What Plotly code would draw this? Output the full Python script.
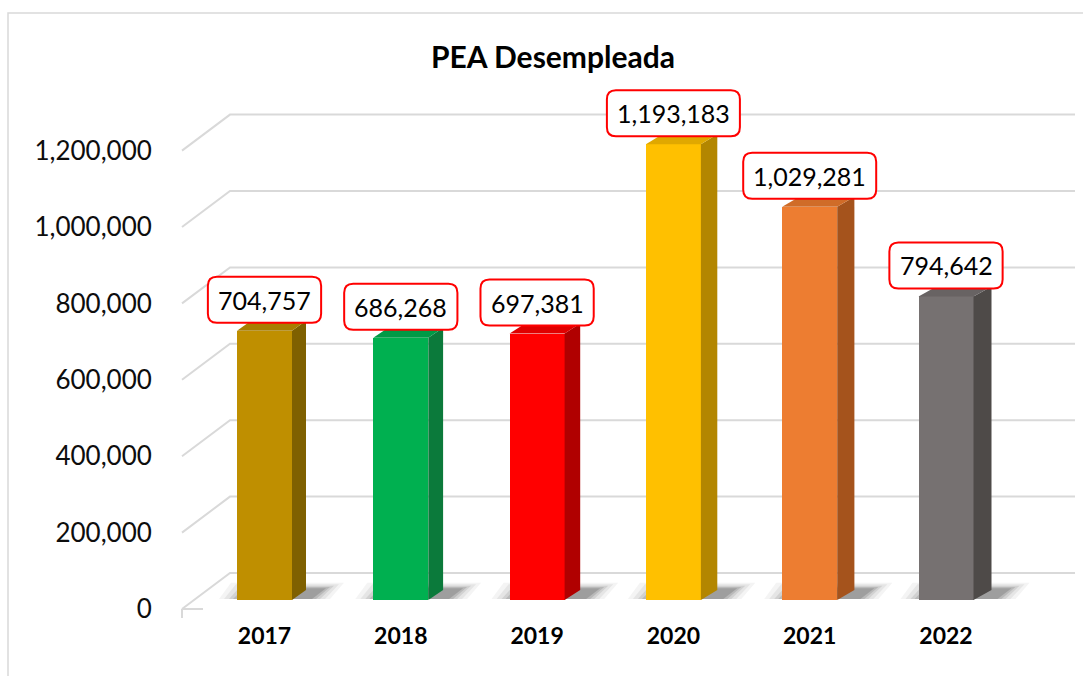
import plotly.graph_objects as go

# ---------------- data ----------------
years = ["2017", "2018", "2019", "2020", "2021", "2022"]
values = [704757, 686268, 697381, 1193183, 1029281, 794642]
front_colors = ["#BF8F00", "#00B050", "#FF0000", "#FFC000", "#ED7D31", "#767171"]
side_colors = ["#7F6000", "#0B7A3B", "#B00000", "#B38600", "#A5531C", "#4E4A48"]
top_colors = ["#A87E00", "#009A46", "#E00000", "#E0A800", "#D06C28", "#686363"]
y_ticks = [0, 200000, 400000, 600000, 800000, 1000000, 1200000]
title_text = "PEA Desempleada"

# ---------------- geometry (pixels) ----------------
W, H = 1083, 676
L, R, T, B = 180, 8, 20, 56
PW, PH = W - L - R, H - T - B
PX_PER_CAT = 136.3
CAT0_PX = 264.5
PX_PER_UNIT = 76.4 / 200000
BAR_BASE_PX = 600
FRONT_X_PX = 182
BACK_X_PX = 230
FRONT_GRID_PX = 609
BACK_GRID_PX = 573
BAR_W_PX = 55
DEPTH_Y_PX = 10

x_min = -(CAT0_PX - L) / PX_PER_CAT
x_max = x_min + PW / PX_PER_CAT
y_min = -((T + PH) - BAR_BASE_PX) / PX_PER_UNIT
y_max = y_min + PH / PX_PER_UNIT


def xu(px):
    return px / PX_PER_CAT


def yu(px):
    return px / PX_PER_UNIT


def x_at(px_abs):
    return x_min + (px_abs - L) / PX_PER_CAT


FONT = "Lato, Calibri, Carlito, sans-serif"
GRID_C = "#D9D9D9"

fig = go.Figure()
shapes = []
annotations = []

# back-wall gridlines with perspective "floor" segment
front_off = yu(BAR_BASE_PX - FRONT_GRID_PX)
back_off = yu(BAR_BASE_PX - BACK_GRID_PX)
for g in y_ticks:
    path = (f"M{x_at(FRONT_X_PX)},{g + front_off} "
            f"L{x_at(BACK_X_PX)},{g + back_off} "
            f"L{x_max},{g + back_off}")
    shapes.append(dict(type="path", path=path, xref="x", yref="y",
                       line=dict(color=GRID_C, width=2), layer="below"))
# small front floor edge and tick
shapes.append(dict(type="line", xref="x", yref="y",
                   x0=x_at(FRONT_X_PX), x1=x_at(FRONT_X_PX + 21),
                   y0=front_off, y1=front_off,
                   line=dict(color=GRID_C, width=2), layer="below"))
shapes.append(dict(type="line", xref="x", yref="y",
                   x0=x_at(FRONT_X_PX), x1=x_at(FRONT_X_PX),
                   y0=front_off, y1=front_off - yu(9),
                   line=dict(color=GRID_C, width=2), layer="below"))

# soft floor shadows (pixel paths anchored at each bar base)
xs = list(range(len(years)))
for i in xs:
    dx = 14 + 0.8 * i
    hw = BAR_W_PX / 2
    for grow, op in [(14, 0.05), (9, 0.07), (4, 0.10), (0, 0.14), (-4, 0.18)]:
        p = (f"M{-hw - 4 - grow},{1} L{hw + dx + 10 + grow},{1} "
             f"L{hw + dx + 24 + grow},{DEPTH_Y_PX + 3 + grow * 0.3} "
             f"L{-hw + 8 - grow},{DEPTH_Y_PX + 3 + grow * 0.3} Z")
        shapes.append(dict(type="path", path=p, xref="x", yref="y",
                           xsizemode="pixel", ysizemode="pixel",
                           xanchor=i, yanchor=0,
                           fillcolor=f"rgba(40,40,40,{op})", line=dict(width=0),
                           layer="below"))

# front faces
fig.add_trace(go.Bar(x=xs, y=values, width=xu(BAR_W_PX),
                     marker=dict(color=front_colors, line=dict(width=0)),
                     hoverinfo="skip", showlegend=False))

# side and top faces
for i, v in enumerate(values):
    dx = xu(14 + 0.8 * i)
    dy = yu(DEPTH_Y_PX)
    xl = i - xu(BAR_W_PX) / 2
    xr = i + xu(BAR_W_PX) / 2
    fig.add_trace(go.Scatter(
        x=[xr, xr + dx, xr + dx, xr, xr], y=[0, dy, v + dy, v, 0],
        fill="toself", fillcolor=side_colors[i], mode="lines",
        line=dict(width=0, color=side_colors[i]), hoverinfo="skip", showlegend=False))
    fig.add_trace(go.Scatter(
        x=[xl, xr, xr + dx, xl + dx, xl], y=[v, v, v + dy, v + dy, v],
        fill="toself", fillcolor=top_colors[i], mode="lines",
        line=dict(width=0, color=top_colors[i]), hoverinfo="skip", showlegend=False))


def rrect(x0, y0, x1, y1, r):
    return (f"M{x0 + r},{y0} L{x1 - r},{y0} Q{x1},{y0} {x1},{y0 + r} "
            f"L{x1},{y1 - r} Q{x1},{y1} {x1 - r},{y1} L{x0 + r},{y1} "
            f"Q{x0},{y1} {x0},{y1 - r} L{x0},{y0 + r} Q{x0},{y0} {x0 + r},{y0} Z")


LABEL_FS = 25
for i, v in enumerate(values):
    txt = f"{v:,}"
    n_dig = sum(c.isdigit() for c in txt)
    n_com = txt.count(",")
    tw = (n_dig * 0.58 + n_com * 0.21) * LABEL_FS
    half = tw / 2 + 10.5
    shapes.append(dict(type="path", path=rrect(-half, 8, half, 54, 9),
                       xref="x", yref="y", xsizemode="pixel", ysizemode="pixel",
                       xanchor=i, yanchor=v, fillcolor="white",
                       line=dict(color="#FF0000", width=2), layer="above"))
    annotations.append(dict(x=i, y=v, xref="x", yref="y", text=txt,
                            showarrow=False, yshift=31,
                            font=dict(family=FONT, size=LABEL_FS, color="#000000")))

# chart frame
shapes.append(dict(type="rect", xref="paper", yref="paper",
                   x0=(8 - L) / PW, x1=1.3, y0=-0.3, y1=1 + (T - 13) / PH,
                   line=dict(color="#D9D9D9", width=1.5), layer="below"))

# invisible trace on y2 so that its ticks render
fig.add_trace(go.Scatter(x=[None], y=[None], yaxis="y2", showlegend=False,
                         hoverinfo="skip"))

fig.update_layout(
    width=W, height=H,
    margin=dict(l=L, r=R, t=T, b=B),
    paper_bgcolor="white", plot_bgcolor="white",
    bargap=0,
    shapes=shapes, annotations=annotations,
    title=dict(text=title_text, x=553 / W, xanchor="center",
               y=1 - 57 / H, yanchor="middle",
               font=dict(family=FONT, size=30, color="#000000", weight="bold")),
    xaxis=dict(range=[x_min, x_max], tickvals=xs, ticktext=years,
               showgrid=False, zeroline=False, showline=False, ticks="",
               tickfont=dict(family=FONT, size=23, color="#000000", weight="bold")),
    yaxis=dict(range=[y_min, y_max], showgrid=False, zeroline=False,
               showline=False, showticklabels=False, ticks=""),
    yaxis2=dict(range=[y_min + yu(FRONT_GRID_PX - BAR_BASE_PX),
                       y_max + yu(FRONT_GRID_PX - BAR_BASE_PX)],
                overlaying="y", side="left", anchor="x",
                tickvals=y_ticks, tickformat=",",
                showgrid=False, zeroline=False, showline=False,
                ticks="outside", ticklen=22, tickcolor="rgba(0,0,0,0)",
                tickfont=dict(family=FONT, size=26, color="#0D0D0D")),
)

fig.write_html("out.html",
               config={"displayModeBar": False},
               post_script="document.body.style.margin='0';document.body.style.overflow='hidden';")
